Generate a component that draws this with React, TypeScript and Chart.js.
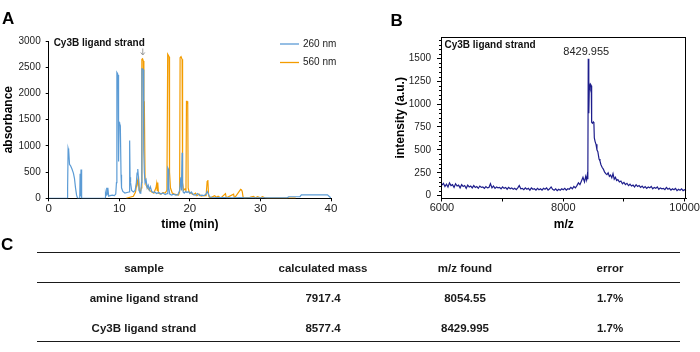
import React, { useEffect, useRef } from "react";
import { Chart, registerables } from "chart.js";

Chart.register(...registerables);

const FONT = '"Liberation Sans", Arial, Helvetica, sans-serif';
Chart.defaults.font.family = FONT;
Chart.defaults.color = "#222";

// ---------- Panel A: HPLC chromatogram ----------
const seriesLabels = ["260 nm", "560 nm"];
const seriesColors = ["#5b9bd5", "#f39c00"];
const timeTicks = [0, 10, 20, 30, 40];
const absorbanceTicks = [0, 500, 1000, 1500, 2000, 2500, 3000];

const time260 = [
  0, 2.6, 2.68, 2.75, 2.8, 2.86, 2.95, 3.1, 3.3, 3.5, 3.65, 3.8, 3.95, 4.1, 4.4, 4.45, 4.5, 4.58, 4.63, 4.7,
  8.0, 8.05, 8.12, 8.22, 8.28, 8.38, 8.5, 8.7, 9.0, 9.3, 9.5, 9.6, 9.66, 9.75, 9.82, 9.9, 9.98, 10.05, 10.15, 10.25,
  10.32, 10.5, 10.8, 11.1, 11.38, 11.47, 11.53, 11.6, 11.75, 12.0, 12.25, 12.42, 12.52, 12.62, 12.7, 12.8, 12.95, 13.05, 13.15,
  13.2, 13.3, 13.4, 13.47, 13.55, 13.65, 13.8, 13.95, 14.1, 14.25, 14.4, 14.6, 14.8, 15.0, 15.3, 15.6, 15.9, 16.2, 16.5,
  16.8, 16.88, 16.95, 17.02, 17.15, 17.4, 17.7, 18.0, 18.3, 18.55, 18.72, 18.8, 18.9, 18.96, 19.05, 19.2, 19.4, 19.6, 19.8,
  20.0, 20.2, 20.5, 20.8, 21.1, 21.4, 21.7, 22.0, 22.3, 22.45, 22.6, 22.8, 23.1, 24, 25, 26, 27, 28, 29, 30, 31, 32, 33,
  33.8, 34.0, 35.6, 35.8, 39.5, 39.8, 40,
];
const absorbance260 = [
  0, 0, 200, 950, 900, 920, 650, 620, 560, 480, 380, 200, 60, 0, 0, 470, 40, 550, 40, 0,
  0, 100, 60, 200, 80, 200, 40, 50, 60, 50, 80, 300, 2400, 2380, 2350, 700, 1450, 1430, 1380, 450,
  200, 130, 100, 110, 120, 1100, 400, 300, 150, 120, 150, 300, 480, 560, 420, 150, 100, 120, 300,
  2470, 2470, 2450, 900, 500, 300, 350, 200, 250, 160, 220, 130, 110, 120, 90, 110, 80, 100, 70,
  90, 580, 560, 200, 80, 60, 80, 60, 70, 150, 400, 150, 870, 300, 120, 100, 130, 110, 130,
  90, 120, 70, 60, 90, 50, 60, 50, 80, 130, 90, 30, 20, 15, 15, 10, 15, 10, 10, 10, 10, 10, 10,
  10, 30, 30, 65, 65, 30, 5,
];

const time560 = [
  11.0, 11.5, 12.0, 12.3, 12.45, 12.55, 12.65, 12.75, 12.85, 13.0, 13.12, 13.2, 13.3, 13.4, 13.47, 13.5, 13.55, 13.65,
  13.8, 14.0, 14.3, 14.6, 14.9, 15.2, 15.3, 15.38, 15.45, 15.55, 15.7, 15.9, 16.2, 16.5, 16.75, 16.86, 16.95, 17.05, 17.12,
  17.25, 17.5, 17.8, 18.1, 18.4, 18.55, 18.62, 18.75, 18.9, 18.97, 19.1, 19.3, 19.45, 19.52, 19.6, 19.7, 19.76, 19.9,
  20.2, 20.5, 20.8, 21.0, 21.3, 21.6, 21.9, 22.3, 22.45, 22.55, 22.65, 22.75, 23.0, 23.5, 23.8, 24.0, 24.3, 24.5, 25.05,
  25.15, 25.25, 26.2, 26.3, 26.4, 27.2, 27.32, 27.42, 27.55, 27.7, 28.5, 29.0, 29.3, 29.6, 30.0, 30.3, 30.6, 31.0, 32.0,
  35.0, 40.0,
];
const absorbance560 = [
  0, 20, 40, 120, 250, 350, 300, 360, 150, 120, 200, 2650, 2660, 2620, 1850, 1350, 1850, 400,
  250, 200, 150, 120, 100, 200, 280, 150, 300, 100, 90, 80, 110, 100, 150, 2750, 2730, 2700, 500,
  200, 100, 80, 70, 60, 120, 2680, 2700, 2650, 300, 150, 180, 150, 1850, 1850, 1800, 200, 120,
  90, 70, 100, 50, 80, 40, 50, 50, 320, 350, 60, 20, 15, 50, 20, 40, 15, 20,
  90, 20, 15, 80, 15, 20, 170, 160, 130, 20, 10, 20, 35, 10, 30, 10, 30, 10, 5,
  5, 5,
];
const sampleName = "Cy3B ligand strand";
const arrowTime = 13.33;

// ---------- Panel B: mass spectrum ----------
const mzTicks = [6000, 7000, 8000, 9000, 10000];
const mzTickLabels = ["6000", "", "8000", "", "10000"];
const intensityTicks = [0, 250, 500, 750, 1000, 1250, 1500];

const mzValues = [
  6000, 6025, 6050, 6075, 6100, 6125, 6150, 6175, 6200, 6225, 6250, 6275, 6300, 6325, 6350, 6375, 6400, 6425, 6450, 6475,
  6500, 6525, 6550, 6575, 6600, 6625, 6650, 6675, 6700, 6725, 6750, 6775, 6800, 6825, 6850, 6875, 6900, 6925, 6950, 6975,
  7000, 7025, 7050, 7075, 7100, 7125, 7150, 7175, 7200, 7225, 7250, 7275, 7300, 7325, 7350, 7375, 7400, 7425, 7450, 7475,
  7500, 7525, 7550, 7575, 7600, 7625, 7650, 7675, 7700, 7725, 7750, 7775, 7800, 7825, 7850, 7875, 7900, 7925, 7950, 7975,
  8000, 8025, 8050, 8075, 8100, 8125, 8150, 8175, 8200, 8225, 8250, 8275, 8300, 8325, 8350, 8370, 8385, 8395, 8405,
  8412, 8418, 8424, 8430, 8440, 8450, 8462, 8468, 8480, 8495, 8505, 8512, 8525, 8540, 8555, 8570, 8590, 8605, 8620, 8640,
  8660, 8680, 8700, 8720, 8740, 8760, 8780, 8800, 8820, 8840, 8860, 8880, 8900, 8925, 8950, 8975, 9000, 9025, 9050, 9075,
  9100, 9125, 9150, 9175, 9200, 9225, 9250, 9275, 9300, 9325, 9350, 9375, 9400, 9425, 9450, 9475, 9500, 9525, 9550, 9575,
  9600, 9625, 9650, 9675, 9700, 9725, 9750, 9775, 9800, 9825, 9850, 9875, 9900, 9925, 9950, 9975, 10000, 10025,
];
const intensityValues = [
  115, 135, 100, 125, 95, 140, 110, 120, 90, 130, 105, 115, 85, 120, 100, 110, 80, 115, 95, 105,
  85, 110, 90, 100, 80, 105, 90, 95, 80, 100, 85, 90, 130, 85, 105, 80, 95, 85, 90, 75,
  95, 80, 90, 70, 90, 75, 85, 70, 80, 65, 85, 110, 75, 80, 65, 85, 70, 80, 60, 85,
  70, 75, 60, 80, 65, 75, 60, 80, 70, 85, 60, 75, 95, 70, 60, 75, 55, 70, 60, 75,
  65, 80, 60, 75, 70, 90, 75, 100, 85, 110, 140, 120, 160, 200, 150, 210, 170, 220, 180,
  1495, 1150, 900, 1210, 1180, 1215, 1200, 800, 790, 805, 790, 630, 590, 560, 500, 480, 400, 380, 340, 310,
  290, 260, 240, 230, 250, 210, 225, 195, 240, 180, 200, 165, 175, 150, 160, 130, 145, 120, 135, 110,
  125, 105, 115, 95, 120, 100, 110, 90, 105, 85, 100, 80, 95, 85, 100, 75, 90, 80, 95, 70,
  85, 75, 80, 65, 90, 70, 80, 60, 75, 65, 80, 55, 70, 60, 75, 55, 65, 55,
];
const peakLabel = "8429.955";
const peakMz = 8412;

// ---------- Panel C: table ----------
const tableHeaders = ["sample", "calculated mass", "m/z found", "error"];
const tableSamples = ["amine ligand strand", "Cy3B ligand strand"];
const tableCalcMass = ["7917.4", "8577.4"];
const tableMzFound = ["8054.55", "8429.995"];
const tableError = ["1.7%", "1.7%"];

const insideLegend = {
  id: "insideLegend",
  afterDraw(chart: any) {
    const { ctx, chartArea } = chart;
    ctx.save();
    ctx.font = `10px ${FONT}`;
    ctx.textBaseline = "middle";
    ctx.textAlign = "left";
    chart.data.datasets.forEach((ds: any, i: number) => {
      const y = chartArea.top + 3 + i * 18.5;
      const x0 = chartArea.right - 51;
      ctx.strokeStyle = ds.borderColor;
      ctx.lineWidth = 1.3;
      ctx.beginPath();
      ctx.moveTo(x0, y);
      ctx.lineTo(x0 + 19, y);
      ctx.stroke();
      ctx.fillStyle = "#222";
      ctx.fillText(ds.label, x0 + 23, y);
    });
    ctx.restore();
  },
};

const arrowNote = {
  id: "arrowNote",
  afterDraw(chart: any) {
    const { ctx, chartArea, scales } = chart;
    const x = scales.x.getPixelForValue(arrowTime);
    ctx.save();
    ctx.font = `bold 10px ${FONT}`;
    ctx.textAlign = "right";
    ctx.textBaseline = "middle";
    ctx.fillStyle = "#111";
    ctx.fillText(sampleName, x + 2, chartArea.top + 2.5);
    ctx.strokeStyle = "#999";
    ctx.lineWidth = 1;
    ctx.beginPath();
    ctx.moveTo(x, chartArea.top + 7.5);
    ctx.lineTo(x, chartArea.top + 14);
    ctx.moveTo(x - 2, chartArea.top + 11.5);
    ctx.lineTo(x, chartArea.top + 14);
    ctx.lineTo(x + 2, chartArea.top + 11.5);
    ctx.stroke();
    ctx.restore();
  },
};

const boxAndMinor = {
  id: "boxAndMinor",
  afterDraw(chart: any) {
    const { ctx, chartArea: a, scales } = chart;
    ctx.save();
    ctx.strokeStyle = "#000";
    ctx.lineWidth = 1;
    const l = Math.round(a.left) + 0.5;
    const r = Math.round(a.right) - 0.5;
    const t = Math.round(a.top) + 0.5;
    const b = Math.round(a.bottom) - 0.5;
    ctx.strokeRect(l, t, r - l, b - t);
    ctx.beginPath();
    for (let v = 50; v <= scales.y.max; v += 50) {
      if (v % 250 === 0) continue;
      const y = Math.round(scales.y.getPixelForValue(v)) + 0.5;
      ctx.moveTo(l - 2.5, y);
      ctx.lineTo(l, y);
    }
    ctx.stroke();
    ctx.font = `bold 10px ${FONT}`;
    ctx.textAlign = "left";
    ctx.textBaseline = "middle";
    ctx.fillStyle = "#111";
    ctx.fillText(sampleName, a.left + 3.5, a.top + 8);
    ctx.font = `11px ${FONT}`;
    ctx.textAlign = "center";
    ctx.fillStyle = "#222";
    ctx.fillText(peakLabel, scales.x.getPixelForValue(peakMz) - 2, a.top + 14.7);
    ctx.restore();
  },
};

const axisCommon = {
  grid: { display: true, drawOnChartArea: false, drawTicks: true, tickLength: 3, color: "#000" },
  border: { display: true, color: "#000", width: 1 },
};

const setTicks = (values: number[]) => (s: any) => {
  s.ticks = values.map((v) => ({ value: v }));
};

export default function App() {
  const refA = useRef<HTMLCanvasElement>(null);
  const refB = useRef<HTMLCanvasElement>(null);

  useEffect(() => {
    const chartA = new Chart(refA.current as HTMLCanvasElement, {
      type: "line",
      data: {
        datasets: [
          {
            label: seriesLabels[0],
            data: time260.map((t, i) => ({ x: t, y: absorbance260[i] })),
            borderColor: seriesColors[0],
            borderWidth: 1.2,
            pointRadius: 0,
            tension: 0,
            fill: false,
          },
          {
            label: seriesLabels[1],
            data: time560.map((t, i) => ({ x: t, y: absorbance560[i] })),
            borderColor: seriesColors[1],
            borderWidth: 1.2,
            pointRadius: 0,
            tension: 0,
            fill: false,
          },
        ],
      },
      options: {
        responsive: false,
        animation: false,
        layout: { padding: { top: 41, right: 14, left: 0, bottom: 0 } },
        plugins: { legend: { display: false }, tooltip: { enabled: false } },
        scales: {
          x: {
            type: "linear",
            min: 0,
            max: 40,
            ...axisCommon,
            afterBuildTicks: setTicks(timeTicks),
            ticks: { font: { size: 11.5 }, color: "#222", padding: 1, autoSkip: false, callback: (v: any) => String(v) },
            title: { display: true, text: "time (min)", font: { size: 12, weight: "bold" }, color: "#000", padding: { top: 0, bottom: 4.5 } },
            afterFit: (s: any) => { s.height = 37.7; },
          } as any,
          y: {
            type: "linear",
            min: 0,
            max: 3000,
            ...axisCommon,
            afterBuildTicks: setTicks(absorbanceTicks),
            ticks: { font: { size: 10 }, color: "#222", padding: 5, autoSkip: false, callback: (v: any) => String(v) },
            title: { display: true, text: "absorbance", font: { size: 12, weight: "bold" }, color: "#000", padding: { top: 1, bottom: 0 } },
            afterFit: (s: any) => { s.width = 48.7; },
          } as any,
        },
      },
      plugins: [insideLegend, arrowNote],
    });

    const chartB = new Chart(refB.current as HTMLCanvasElement, {
      type: "line",
      data: {
        datasets: [
          {
            label: "intensity",
            data: mzValues.map((m, i) => ({ x: m, y: intensityValues[i] })),
            borderColor: "#1e1e8c",
            borderWidth: 1.2,
            pointRadius: 0,
            tension: 0,
            fill: false,
          },
        ],
      },
      options: {
        responsive: false,
        animation: false,
        layout: { padding: { top: 37, right: 13.5, left: 0, bottom: 0 } },
        plugins: { legend: { display: false }, tooltip: { enabled: false } },
        scales: {
          x: {
            type: "linear",
            min: 5985,
            max: 10030,
            ...axisCommon,
            afterBuildTicks: setTicks(mzTicks),
            ticks: {
              autoSkip: false,
              font: { size: 11 },
              color: "#222",
              padding: 0,
              callback: (_v: any, i: number) => mzTickLabels[i],
            },
            title: { display: true, text: "m/z", font: { size: 12, weight: "bold" }, color: "#000", padding: { top: 0, bottom: 4.5 } },
            afterFit: (s: any) => { s.height = 37.5; },
          } as any,
          y: {
            type: "linear",
            min: -31,
            max: 1732,
            ...axisCommon,
            grid: { ...axisCommon.grid, tickLength: 4 },
            afterBuildTicks: setTicks(intensityTicks),
            ticks: { autoSkip: false, font: { size: 10 }, color: "#222", padding: 6, callback: (v: any) => String(v) },
            title: { display: true, text: "intensity (a.u.)", font: { size: 12, weight: "bold" }, color: "#000", padding: { top: 8, bottom: 0 } },
            afterFit: (s: any) => { s.width = 56; },
          } as any,
        },
      },
      plugins: [boxAndMinor],
    });

    return () => {
      chartA.destroy();
      chartB.destroy();
    };
  }, []);

  const colCenters = [144, 323, 465, 610];
  const rowTops = [260.5, 291, 321];
  const rows = [tableHeaders, ...tableSamples.map((s, i) => [s, tableCalcMass[i], tableMzFound[i], tableError[i]])];

  const panelLabel = (text: string, left: number, top: number) => (
    <div
      style={{
        position: "absolute",
        left,
        top,
        fontFamily: FONT,
        fontWeight: "bold",
        fontSize: 17,
        lineHeight: "17px",
        color: "#000",
      }}
    >
      {text}
    </div>
  );

  const hline = (top: number) => (
    <div style={{ position: "absolute", left: 37, width: 643, top, height: 1.3, background: "#1a1a1a" }} />
  );

  return (
    <div
      style={{
        position: "absolute",
        left: 0,
        top: 0,
        width: 700,
        height: 352,
        background: "#fff",
        overflow: "hidden",
        fontFamily: FONT,
      }}
    >
      <canvas ref={refA} width={345} height={236} style={{ position: "absolute", left: 0, top: 0, width: 345, height: 236 }} />
      <canvas ref={refB} width={315} height={236} style={{ position: "absolute", left: 385, top: 0, width: 315, height: 236 }} />
      {panelLabel("A", 2, 10)}
      {panelLabel("B", 390.5, 11.5)}
      {panelLabel("C", 1, 236)}
      {hline(252)}
      {hline(281.7)}
      {hline(341)}
      {rows.map((row, ri) =>
        row.map((cell, ci) => (
          <div
            key={`${ri}-${ci}`}
            style={{
              position: "absolute",
              left: colCenters[ci] - 100,
              width: 200,
              top: rowTops[ri],
              height: 14,
              lineHeight: "14px",
              textAlign: "center",
              fontSize: 11.5,
              fontWeight: "bold",
              color: "#1a1a1a",
              whiteSpace: "nowrap",
            }}
          >
            {cell}
          </div>
        ))
      )}
    </div>
  );
}
